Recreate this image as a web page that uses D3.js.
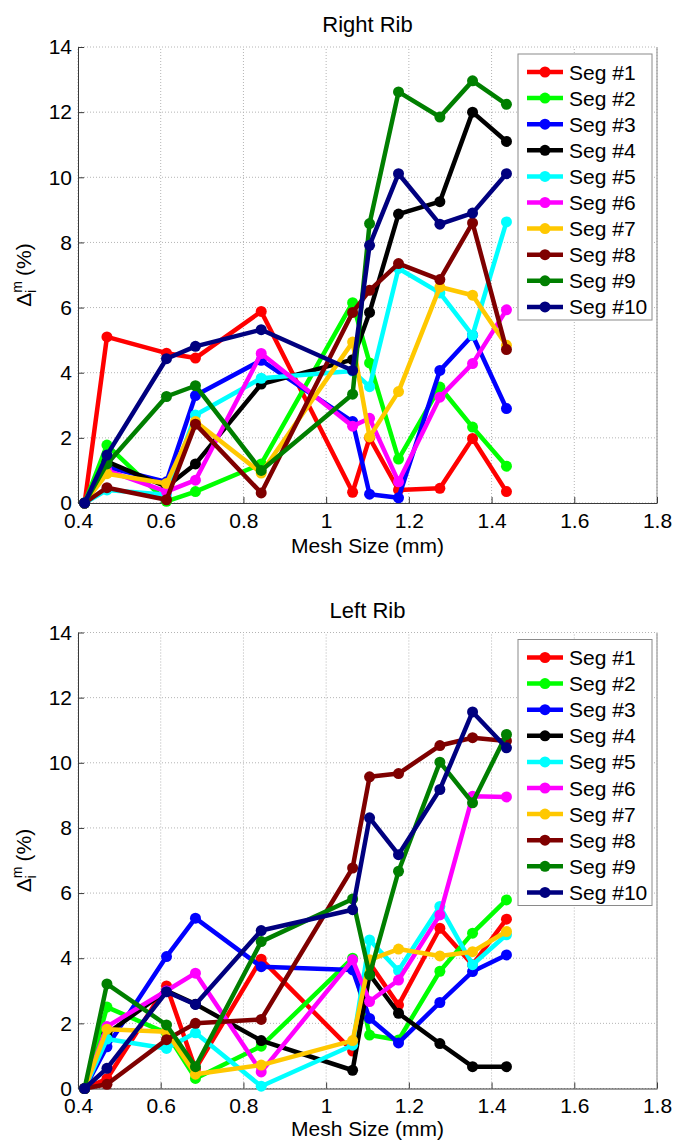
<!DOCTYPE html>
<html>
<head>
<meta charset="utf-8">
<script src="https://cdn.jsdelivr.net/npm/d3@7/dist/d3.min.js"></script>
<style>
  html, body { margin: 0; padding: 0; background: #fff; }
  svg { display: block; font-family: "Liberation Sans", Arial, Helvetica, sans-serif; }
</style>
</head>
<body>
<svg id="chart" width="676" height="1142"></svg>
<script>
// Mesh sizes (mm) shared by every segment curve
const meshSize = [0.416, 0.47, 0.614, 0.684, 0.843, 1.064, 1.105, 1.175, 1.275, 1.354, 1.436];

const segNames = ["Seg #1", "Seg #2", "Seg #3", "Seg #4", "Seg #5",
                  "Seg #6", "Seg #7", "Seg #8", "Seg #9", "Seg #10"];
const segColors = ["#ff0000", "#00ff00", "#0000ff", "#000000", "#00ffff",
                   "#ff00ff", "#ffc800", "#7f0000", "#007f00", "#00007f"];

const xTicks = [0.4, 0.6, 0.8, 1.0, 1.2, 1.4, 1.6, 1.8];
const yTicks = [0, 2, 4, 6, 8, 10, 12, 14];

// Right rib, Δ_i^m (%) per segment
const rightSeg1  = [0, 5.10, 4.60, 4.45, 5.88, 0.33, 2.00, 0.40, 0.45, 1.98, 0.35];
const rightSeg2  = [0, 1.78, 0.05, 0.35, 1.20, 6.15, 4.30, 1.35, 3.56, 2.33, 1.13];
const rightSeg3  = [0, 1.10, 0.65, 3.30, 4.38, 2.50, 0.27, 0.16, 4.07, 5.15, 2.90];
const rightSeg4  = [0, 1.27, 0.50, 1.20, 3.65, 4.40, 5.85, 8.87, 9.25, 12.00, 11.10];
const rightSeg5  = [0, 0.40, 0.25, 2.70, 3.83, 4.05, 3.57, 7.20, 6.45, 5.15, 8.63];
const rightSeg6  = [0, 1.00, 0.35, 0.70, 4.59, 2.36, 2.60, 0.65, 3.25, 4.28, 5.93];
const rightSeg7  = [0, 0.90, 0.60, 2.50, 0.92, 4.94, 2.03, 3.42, 6.63, 6.38, 4.84];
const rightSeg8  = [0, 0.47, 0.10, 2.42, 0.31, 5.85, 6.53, 7.35, 6.86, 8.60, 4.71];
const rightSeg9  = [0, 1.20, 3.27, 3.60, 1.00, 3.34, 8.58, 12.62, 11.85, 12.96, 12.24];
const rightSeg10 = [0, 1.47, 4.43, 4.81, 5.32, 4.07, 7.91, 10.11, 8.56, 8.90, 10.11];

// Left rib, Δ_i^m (%) per segment
const leftSeg1  = [0, 0.30, 3.15, 0.60, 3.97, 1.15, 3.85, 2.56, 4.92, 3.80, 5.20];
const leftSeg2  = [0, 2.50, 1.70, 0.31, 1.30, 4.00, 1.64, 1.49, 3.60, 4.77, 5.79];
const leftSeg3  = [0, 1.28, 4.05, 5.23, 3.74, 3.64, 2.15, 1.40, 2.64, 3.59, 4.10];
const leftSeg4  = [0, 1.68, 3.00, 2.59, 1.47, 0.56, 3.50, 2.31, 1.38, 0.67, 0.67];
const leftSeg5  = [0, 1.52, 1.23, 1.71, 0.07, 1.33, 4.56, 3.62, 5.59, 3.80, 4.72];
const leftSeg6  = [0, 1.90, 3.00, 3.54, 0.51, 3.95, 2.67, 3.33, 5.33, 8.97, 8.95];
const leftSeg7  = [0, 1.82, 1.74, 0.44, 0.72, 1.47, 3.95, 4.28, 4.07, 4.20, 4.82];
const leftSeg8  = [0, 0.13, 1.50, 2.00, 2.12, 6.77, 9.57, 9.67, 10.53, 10.77, 10.67];
const leftSeg9  = [0, 3.21, 1.95, 0.67, 4.51, 5.82, 3.49, 6.67, 10.02, 8.77, 10.87];
const leftSeg10 = [0, 0.62, 2.97, 2.58, 4.85, 5.49, 8.31, 7.18, 9.18, 11.56, 10.46];

const rightRib = [rightSeg1, rightSeg2, rightSeg3, rightSeg4, rightSeg5,
                  rightSeg6, rightSeg7, rightSeg8, rightSeg9, rightSeg10];
const leftRib  = [leftSeg1, leftSeg2, leftSeg3, leftSeg4, leftSeg5,
                  leftSeg6, leftSeg7, leftSeg8, leftSeg9, leftSeg10];

const svg = d3.select("#chart");
const plotLeft = 78, plotRight = 657;
const fontSize = 21;

function drawPanel(title, series, top, bottom, xLabelGap) {
  const x = d3.scaleLinear().domain([0.4, 1.8]).range([plotLeft, plotRight]);
  const y = d3.scaleLinear().domain([0, 14]).range([bottom, top]);
  const g = svg.append("g");

  // dotted grid
  g.append("g").selectAll("line").data(xTicks).join("line")
    .attr("x1", d => x(d)).attr("x2", d => x(d))
    .attr("y1", y(0)).attr("y2", y(14))
    .attr("stroke", "#b4b4b4").attr("stroke-width", 1).attr("stroke-dasharray", "1,2");
  g.append("g").selectAll("line").data(yTicks).join("line")
    .attr("x1", x(0.4)).attr("x2", x(1.8))
    .attr("y1", d => y(d)).attr("y2", d => y(d))
    .attr("stroke", "#b4b4b4").attr("stroke-width", 1).attr("stroke-dasharray", "1,2");

  // right frame edge
  g.append("line").attr("x1", x(1.8)).attr("x2", x(1.8)).attr("y1", y(0)).attr("y2", y(14))
    .attr("stroke", "#8a8a8a").attr("stroke-width", 1);

  // axes
  const xAxis = d3.axisBottom(x).tickValues(xTicks).tickFormat(d3.format("~g"))
    .tickSizeInner(-6).tickSizeOuter(0).tickPadding(10);
  const yAxis = d3.axisLeft(y).tickValues(yTicks).tickFormat(d3.format("~g"))
    .tickSizeInner(-6).tickSizeOuter(0).tickPadding(6);

  const gx = g.append("g").attr("transform", `translate(0,${y(0)})`).call(xAxis);
  const gy = g.append("g").attr("transform", `translate(${x(0.4)},0)`).call(yAxis);
  [gx, gy].forEach(a => {
    a.select(".domain").attr("stroke", "#3a3a3a").attr("stroke-width", 1);
    a.selectAll(".tick line").attr("stroke", "#3a3a3a");
    a.selectAll(".tick text").attr("font-size", fontSize).attr("fill", "#000")
      .attr("font-family", "Liberation Sans, Arial, sans-serif");
  });

  // series, Seg #1 first so Seg #10 ends on top
  const line = d3.line().x((d, i) => x(meshSize[i])).y(d => y(d));
  series.forEach((vals, k) => {
    const sg = g.append("g");
    sg.append("path").datum(vals).attr("d", line)
      .attr("fill", "none").attr("stroke", segColors[k])
      .attr("stroke-width", 4.5).attr("stroke-linejoin", "round");
    sg.selectAll("circle").data(vals).join("circle")
      .attr("cx", (d, i) => x(meshSize[i])).attr("cy", d => y(d))
      .attr("r", 5.5).attr("fill", segColors[k]);
  });

  // title
  g.append("text").attr("x", (plotLeft + plotRight) / 2).attr("y", top - 15)
    .attr("text-anchor", "middle").attr("font-size", 22).text(title);

  // x label
  g.append("text").attr("x", (plotLeft + plotRight) / 2).attr("y", bottom + xLabelGap)
    .attr("text-anchor", "middle").attr("font-size", fontSize).text("Mesh Size (mm)");

  // y label: Δ with stacked superscript m and subscript i
  const yl = g.append("text")
    .attr("transform", `translate(31,${(top + bottom) / 2}) rotate(-90)`)
    .attr("text-anchor", "middle").attr("font-size", fontSize);
  yl.append("tspan").text("Δ");
  yl.append("tspan").attr("font-size", 14).attr("dy", -9).text("m");
  yl.append("tspan").attr("font-size", 14).attr("dx", -12).attr("dy", 14).text("i");
  yl.append("tspan").attr("dx", 14).attr("dy", -5).text("(%)");

  // legend
  const lgX = 518, lgY = top + 7, lgW = 134, lgH = 266, rowH = 26.1;
  const lg = g.append("g");
  lg.append("rect").attr("x", lgX).attr("y", lgY).attr("width", lgW).attr("height", lgH)
    .attr("fill", "#fff").attr("stroke", "#8a8a8a").attr("stroke-width", 1);
  segNames.forEach((name, k) => {
    const cy = lgY + 18 + k * rowH;
    lg.append("line").attr("x1", lgX + 9).attr("x2", lgX + 45).attr("y1", cy).attr("y2", cy)
      .attr("stroke", segColors[k]).attr("stroke-width", 4.5);
    lg.append("circle").attr("cx", lgX + 27).attr("cy", cy).attr("r", 5.5).attr("fill", segColors[k]);
    lg.append("text").attr("x", lgX + 51).attr("y", cy + 7.5).attr("font-size", fontSize).text(name);
  });
}

drawPanel("Right Rib", rightRib, 47, 503, 50);
drawPanel("Left Rib", leftRib, 632.5, 1088.5, 47);
</script>
</body>
</html>
